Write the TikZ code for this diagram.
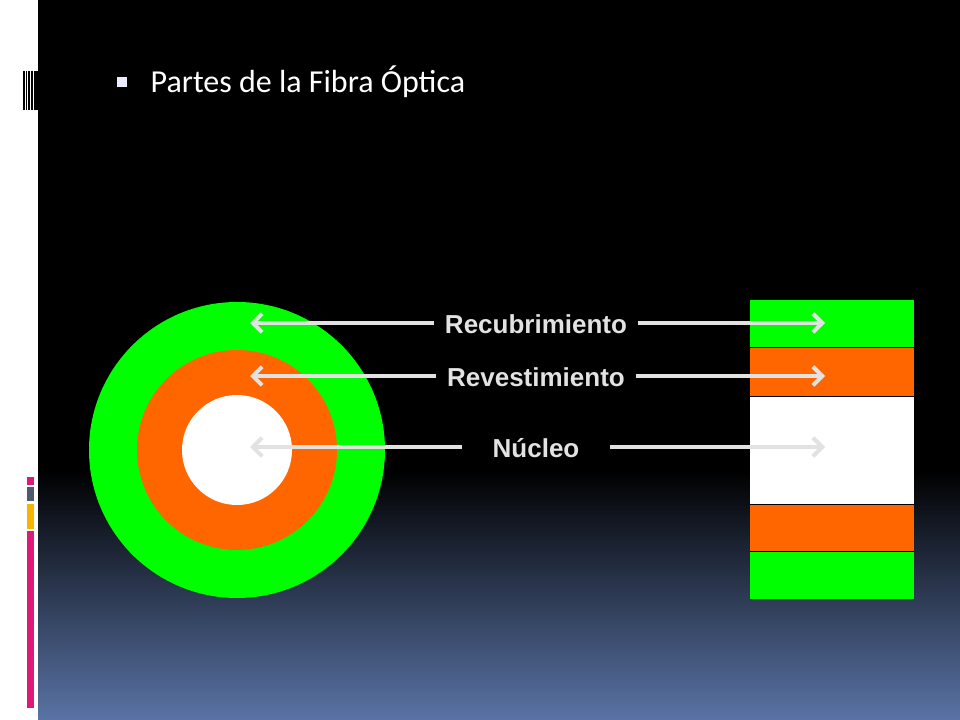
\documentclass[tikz,border=0pt]{standalone}
\usepackage{fontspec}
\setmainfont{Liberation Sans}
\newfontfamily\titlefont{Carlito}
\usetikzlibrary{arrows.meta}
\definecolor{fgreen}{HTML}{00FF00}
\definecolor{forange}{HTML}{FF6600}
\definecolor{fbluegray}{HTML}{5A73A5}
\definecolor{fpink}{HTML}{E0187A}
\definecolor{fslate}{HTML}{4F5A6E}
\definecolor{fyellow}{HTML}{F8B400}
\definecolor{farrow}{HTML}{E2E2E2}
\tikzset{
  etiqueta/.style={text=farrow, font=\bfseries\fontsize{19.5}{22}\selectfont, inner sep=2pt},
  flecha/.style={draw=farrow, line width=3pt, -{Straight Barb[length=7pt,width=14pt,line width=3pt]}}
}
\begin{document}
\begin{tikzpicture}[x=0.75pt,y=-0.75pt]
  \useasboundingbox (0,0) rectangle (960,720);
  % fondo
  \fill[white] (0,0) rectangle (38,720);
  \fill[black] (38,0) rectangle (960,471);
  \shade[top color=black, bottom color=fbluegray] (38,470) rectangle (960,720);
  % barras laterales
  \fill[black] (23,71) rectangle (24.5,110);
  \fill[black] (25.5,71) rectangle (26.5,110);
  \fill[black] (27.5,71) rectangle (29.5,110);
  \fill[black] (30.5,71) rectangle (33,110);
  \fill[black] (34,71) rectangle (38,110);
  \fill[fpink] (27,477) rectangle (34,485);
  \fill[fslate] (27,487) rectangle (34,501);
  \fill[fyellow] (27,504) rectangle (34,529);
  \fill[fpink] (27,531) rectangle (34,708);
  % titulo
  \fill[blue!8] (117,77) rectangle (127,87);
  \node[anchor=west, text=white, font=\titlefont\fontsize{24}{28}\selectfont] (titulo) at (146,82) {Partes de la Fibra Óptica};
  % corte transversal
  \fill[fgreen] (237,450) circle (148);
  \fill[forange] (237,450) circle (100);
  \fill[white] (237,450) circle (55);
  % corte longitudinal
  \fill[fgreen] (750,300) rectangle (914,347);
  \fill[forange] (750,347) rectangle (914,396);
  \fill[white] (750,396) rectangle (914,504);
  \fill[forange] (750,504) rectangle (914,551);
  \fill[fgreen] (750,551) rectangle (914,599);
  \draw[black, line width=0.5pt] (750,347) -- (914,347) (750,396) -- (914,396) (750,504) -- (914,504) (750,551) -- (914,551);
  % etiquetas
  \node[etiqueta] (recub) at (536,324) {Recubrimiento};
  \node[etiqueta] (revest) at (536,377) {Revestimiento};
  \node[etiqueta] (nucleo) at (536,448) {Núcleo};
  \coordinate (recubL) at (250,323);
  \coordinate (recubR) at (825,323);
  \coordinate (revestL) at (250,376);
  \coordinate (revestR) at (825,376);
  \coordinate (nucleoL) at (250,447);
  \coordinate (nucleoR) at (825,447);
  \draw[flecha] (recub.west) ++(-8,-1) -- (recubL);
  \draw[flecha] (recub.east) ++(8,-1) -- (recubR);
  \draw[flecha] (revest.west) ++(-8,-1) -- (revestL);
  \draw[flecha] (revest.east) ++(8,-1) -- (revestR);
  \draw[flecha] (nucleo.west) ++(-28,-1) -- (nucleoL);
  \draw[flecha] (nucleo.east) ++(28,-1) -- (nucleoR);
\end{tikzpicture}
\end{document}
